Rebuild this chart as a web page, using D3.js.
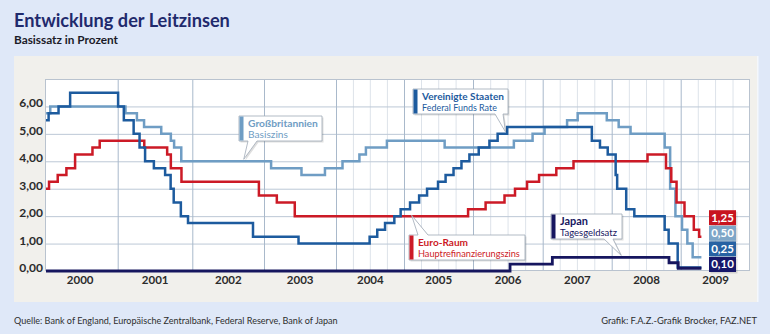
<!DOCTYPE html>
<html><head><meta charset="utf-8">
<script src="https://cdn.jsdelivr.net/npm/d3@7"></script>
<style>html,body{margin:0;padding:0;background:#dfe8f8}svg{display:block}</style>
</head><body>
<svg id="c" width="770" height="334"></svg>
<script>
// ---------- data ----------
const years = [2000, 2001, 2002, 2003, 2004, 2005, 2006, 2007, 2008, 2009];
const yTicks = [0, 1, 2, 3, 4, 5, 6];
const yTickLabels = ["0,00", "1,00", "2,00", "3,00", "4,00", "5,00", "6,00"];
const endDate = "2009-04-20";

const ukSteps = [["2000-01-01",5.75],["2000-02-10",6.0],["2001-02-08",5.75],["2001-04-05",5.5],["2001-05-10",5.25],
  ["2001-08-02",5.0],["2001-09-18",4.75],["2001-10-04",4.5],["2001-11-08",4.0],["2003-02-06",3.75],["2003-07-10",3.5],
  ["2003-11-06",3.75],["2004-02-05",4.0],["2004-05-06",4.25],["2004-06-10",4.5],["2004-10-01",4.75],["2005-08-04",4.5],
  ["2006-08-03",4.75],["2006-11-09",5.0],["2007-01-11",5.25],["2007-05-10",5.5],["2007-07-05",5.75],["2007-12-06",5.5],
  ["2008-02-07",5.25],["2008-04-10",5.0],["2008-10-08",4.5],["2008-11-06",3.0],["2008-12-04",2.0],["2009-01-08",1.5],
  ["2009-02-05",1.0],["2009-03-05",0.5]];

const euroSteps = [["2000-01-01",3.0],["2000-02-04",3.25],["2000-03-17",3.5],["2000-04-28",3.75],["2000-06-09",4.25],
  ["2000-09-01",4.5],["2000-10-06",4.75],["2001-05-11",4.5],["2001-08-31",4.25],["2001-09-18",3.75],["2001-11-09",3.25],
  ["2002-12-06",2.75],["2003-03-07",2.5],["2003-06-06",2.0],["2005-12-06",2.25],["2006-03-08",2.5],["2006-06-15",2.75],
  ["2006-08-09",3.0],["2006-10-11",3.25],["2006-12-13",3.5],["2007-03-14",3.75],["2007-06-13",4.0],["2008-07-09",4.25],
  ["2008-10-15",3.75],["2008-11-12",3.25],["2008-12-10",2.5],["2009-01-21",2.0],["2009-03-11",1.5],["2009-04-08",1.25]];

const usSteps = [["2000-01-01",5.5],["2000-02-02",5.75],["2000-03-21",6.0],["2000-05-16",6.5],["2001-01-03",6.0],
  ["2001-01-31",5.5],["2001-03-20",5.0],["2001-04-18",4.5],["2001-05-15",4.0],["2001-06-27",3.75],["2001-08-21",3.5],
  ["2001-09-17",3.0],["2001-10-02",2.5],["2001-11-06",2.0],["2001-12-11",1.75],["2002-11-06",1.25],["2003-06-25",1.0],
  ["2004-06-30",1.25],["2004-08-10",1.5],["2004-09-21",1.75],["2004-11-10",2.0],["2004-12-14",2.25],["2005-02-02",2.5],
  ["2005-03-22",2.75],["2005-05-03",3.0],["2005-06-30",3.25],["2005-08-09",3.5],["2005-09-20",3.75],["2005-11-01",4.0],
  ["2005-12-13",4.25],["2006-01-31",4.5],["2006-03-28",4.75],["2006-05-10",5.0],["2006-06-29",5.25],["2007-09-18",4.75],
  ["2007-10-31",4.5],["2007-12-11",4.25],["2008-01-22",3.5],["2008-01-30",3.0],["2008-03-18",2.25],["2008-04-30",2.0],
  ["2008-10-08",1.5],["2008-10-29",1.0],["2008-12-16",0.125]];

const japanSteps = [["2000-01-01",0],["2006-07-14",0.25],["2007-02-21",0.5],["2008-10-31",0.3],["2008-12-19",0.1]];

const seriesKeys = ["uk", "euro", "us", "japan"];
const endLabelKeys = ["euro", "uk", "us", "japan"];
const endLabels = ["1,25", "0,50", "0,25", "0,10"];
const calloutTitles = ["Großbritannien", "Vereinigte Staaten", "Euro-Raum", "Japan"];
const calloutSubs = ["Basiszins", "Federal Funds Rate", "Hauptrefinanzierungszins", "Tagesgeldsatz"];
const calloutTipDates = ["2002-09-20", "2006-06-20", "2005-02-10", "2008-02-20"];
const calloutTipValues = [4.0, 5.0, 2.0, 0.5];

// ---------- styles / layout ----------
const colors = {uk:"#6f9dc4", euro:"#cc1a26", us:"#1d5b9e", japan:"#16165f"};
const labelBg = {uk:"#7ea6c8", euro:"#c8141f", us:"#2762a3", japan:"#17176a"};
const stepsByKey = {uk:ukSteps, euro:euroSteps, us:usSteps, japan:japanSteps};
const FONT = "Lato, 'Open Sans', sans-serif";
const W = 770, H = 334;
const plot = {l:45, r:750, t:79, b:271};

const parse = d3.utcParse("%Y-%m-%d");
const svg = d3.select("#c");

const yearEdges = d3.range(2000, 2011).map(y => new Date(Date.UTC(y, 0, 1)));
const x = d3.scaleUtc().domain(yearEdges)
  .range([42, 117.7, 192.3, 264, 336, 404, 473, 542.7, 611.7, 680.7, 750]);
const y = d3.scaleLinear().domain([0, 7]).range([plot.b, plot.t]);

function fit(t, target) {
  const w = t.node().getComputedTextLength();
  const fs = parseFloat(t.attr("font-size"));
  if (w > 0) t.attr("font-size", (fs * target / w).toFixed(2));
  return t;
}

// background
svg.append("rect").attr("width", W).attr("height", H).attr("fill", "#dfe8f8");
svg.append("rect").attr("x", 757).attr("y", 56).attr("width", 1.5).attr("height", 246).attr("fill", "#f4f7fc");
svg.append("rect").attr("x", 14).attr("y", 56).attr("width", 743).attr("height", 246).attr("fill", "#f1f0ec");
svg.append("rect").attr("x", plot.l).attr("y", plot.t).attr("width", plot.r - plot.l)
  .attr("height", plot.b - plot.t).attr("fill", "#ffffff");

// title
fit(svg.append("text").attr("x", 14).attr("y", 27).attr("font-family", FONT).attr("font-weight", 700)
  .attr("font-size", 20).attr("fill", "#1f2a6d").text("Entwicklung der Leitzinsen"), 216);
fit(svg.append("text").attr("x", 14).attr("y", 43.5).attr("font-family", FONT).attr("font-weight", 700)
  .attr("font-size", 11).attr("fill", "#1b1b28").text("Basissatz in Prozent"), 104);

// grid: minor quarterly verticals (from 2004)
const quarters = d3.utcMonth.every(3).range(new Date(Date.UTC(2004,0,1)), new Date(Date.UTC(2010,0,1)))
  .filter(d => d.getUTCMonth() !== 0);
svg.append("g").attr("transform", `translate(0,${plot.b})`)
  .call(d3.axisBottom(x).tickValues(quarters).tickSize(-(plot.b - plot.t)).tickFormat(""))
  .call(g => g.select(".domain").remove())
  .selectAll("line").attr("stroke", "#dde3ea").attr("stroke-width", 1);

// horizontal grid
svg.append("g").attr("transform", `translate(${plot.l},0)`)
  .call(d3.axisLeft(y).tickValues([1,2,3,4,5,6,7]).tickSize(-(plot.r - plot.l)).tickFormat(""))
  .call(g => g.select(".domain").remove())
  .selectAll("line").attr("stroke", "#bcc8d6").attr("stroke-width", 1);

// major year verticals
const yearLines = years.slice(1).map(v => new Date(Date.UTC(v, 0, 1)));
svg.append("g").attr("transform", `translate(0,${plot.b})`)
  .call(d3.axisBottom(x).tickValues(yearLines).tickSize(-(plot.b - plot.t)).tickFormat(""))
  .call(g => g.select(".domain").remove())
  .selectAll("line").attr("stroke", "#a9b9cb").attr("stroke-width", 1);

// plot border
svg.append("rect").attr("x", plot.l + 0.5).attr("y", plot.t + 0.5).attr("width", plot.r - plot.l - 1)
  .attr("height", plot.b - plot.t - 1).attr("fill", "none").attr("stroke", "#b9c3cf").attr("stroke-width", 1);

// x axis labels (centered in year)
const midYears = years.map(v => new Date(Date.UTC(v, 6, 1)));
const xAx = svg.append("g").attr("transform", `translate(0,${plot.b})`)
  .call(d3.axisBottom(x).tickValues(midYears).tickSize(0).tickFormat(d3.utcFormat("%Y")));
xAx.select(".domain").remove();
xAx.selectAll("text").attr("font-family", FONT).attr("font-weight", 700).attr("font-size", 11.5)
  .attr("fill", "#2b2b2b").attr("dy", 0).attr("y", 13);

// y axis labels
const yAx = svg.append("g").attr("transform", `translate(43,0)`)
  .call(d3.axisLeft(y).tickValues(yTicks).tickSize(0).tickFormat((d, i) => yTickLabels[i]));
yAx.select(".domain").remove();
yAx.selectAll("text").attr("font-family", FONT).attr("font-weight", 700).attr("font-size", 12)
  .attr("fill", "#2b2b2b").attr("dy", 0).attr("x", 0).attr("y", 0.5);

// series
svg.append("clipPath").attr("id", "pc").append("rect")
  .attr("x", plot.l + 1).attr("y", plot.t - 5).attr("width", plot.r - plot.l - 1).attr("height", plot.b - plot.t + 10);
const line = d3.line().x(d => x(d[0])).y(d => y(d[1])).curve(d3.curveStepAfter);
const gLines = svg.append("g").attr("clip-path", "url(#pc)");
seriesKeys.forEach(k => {
  const pts = stepsByKey[k].map(d => [parse(d[0]), d[1]]);
  pts.push([parse(endDate), pts[pts.length - 1][1]]);
  gLines.append("path").datum(pts).attr("d", line).attr("fill", "none")
    .attr("stroke", colors[k]).attr("stroke-width", k === "japan" ? 2.8 : 2.5)
    .attr("stroke-linejoin", "miter").attr("stroke-linecap", "butt");
});

// end value labels
const lblW = 27, lblH = 15, lblGap = 0.6, lblX = 709;
endLabelKeys.forEach((k, i) => {
  const top = plot.b + 1 - (endLabelKeys.length - i) * lblH - (endLabelKeys.length - 1 - i) * lblGap;
  svg.append("rect").attr("x", lblX + 1.5).attr("y", top + 1.5).attr("width", lblW).attr("height", lblH)
    .attr("fill", "#000").attr("opacity", 0.12);
  svg.append("rect").attr("x", lblX).attr("y", top).attr("width", lblW).attr("height", lblH).attr("fill", labelBg[k]);
  svg.append("text").attr("x", lblX + lblW / 2).attr("y", top + 11.3).attr("text-anchor", "middle")
    .attr("font-family", FONT).attr("font-weight", 700).attr("font-size", 11.5).attr("fill", "#fff")
    .text(endLabels[i]);
});

// callouts
const calloutBoxes = [
  {k:"uk",    bx:239, by:116, bw:83,  bh:25, side:"bottom", b1:248, b2:257, titleW:70, subW:40},
  {k:"us",    bx:413, by:89,  bw:95,  bh:25, side:"bottom", b1:495, b2:503, titleW:82, subW:75},
  {k:"euro",  bx:409, by:235, bw:116, bh:25, side:"top",    b1:418, b2:428, titleW:50, subW:102},
  {k:"japan", bx:551, by:214, bw:71,  bh:25, side:"bottom", b1:604, b2:613, titleW:28, subW:57}
];
function calloutPath(c, tx, ty) {
  const {bx, by, bw, bh, b1, b2} = c;
  if (c.side === "bottom")
    return `M${bx},${by}H${bx+bw}V${by+bh}H${b2}L${tx},${ty}L${b1},${by+bh}H${bx}Z`;
  return `M${bx},${by}H${b1}L${tx},${ty}L${b2},${by}H${bx+bw}V${by+bh}H${bx}Z`;
}
calloutBoxes.forEach((c, i) => {
  const tx = x(parse(calloutTipDates[i]));
  const ty = y(calloutTipValues[i]) + (c.side === "bottom" ? -2 : -1);
  const p = calloutPath(c, tx, ty);
  const g = svg.append("g");
  g.append("path").attr("d", p).attr("transform", "translate(1.5,1.5)").attr("fill", "#000").attr("opacity", 0.13);
  g.append("path").attr("d", p).attr("fill", "#fff").attr("stroke", "#9fa9b6").attr("stroke-width", 0.8);
  g.append("rect").attr("x", c.bx + 0.5).attr("y", c.by + 0.5).attr("width", 4).attr("height", c.bh - 1)
    .attr("fill", colors[c.k]);
  fit(g.append("text").attr("x", c.bx + 9).attr("y", c.by + 10.5).attr("font-family", FONT).attr("font-weight", 700)
    .attr("font-size", 10.5).attr("fill", colors[c.k]).text(calloutTitles[i]), c.titleW);
  fit(g.append("text").attr("x", c.bx + 9).attr("y", c.by + 22).attr("font-family", FONT).attr("font-weight", 400)
    .attr("font-size", 8.5).attr("fill", colors[c.k]).text(calloutSubs[i]), c.subW);
});

// footer
fit(svg.append("text").attr("x", 14).attr("y", 324).attr("font-family", FONT).attr("font-size", 8.5)
  .attr("fill", "#2e2e2e").text("Quelle: Bank of England, Europäische Zentralbank, Federal Reserve, Bank of Japan"), 324);
const ft = svg.append("text").attr("x", 757).attr("y", 324).attr("text-anchor", "end").attr("font-family", FONT)
  .attr("font-size", 8.5).attr("fill", "#2e2e2e").text("Grafik: F.A.Z.-Grafik Brocker, FAZ.NET");
fit(ft, 156);
</script>
</body></html>
